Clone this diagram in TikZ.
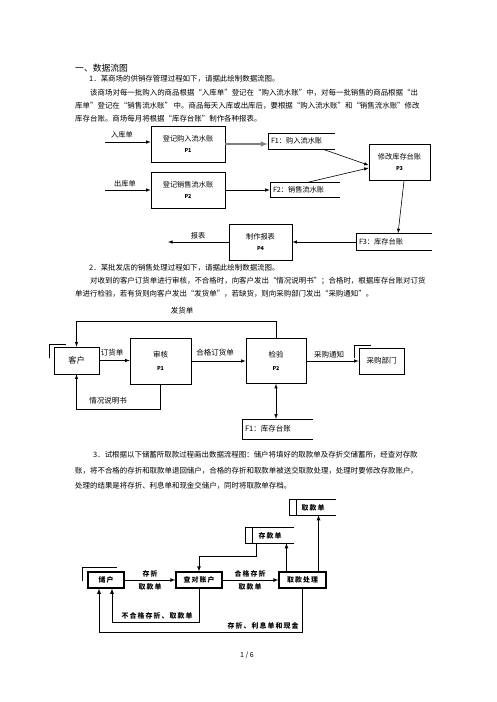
\documentclass[tikz,border=0pt]{standalone}
\usepackage{fontspec}
\setmainfont{Noto Sans CJK SC}
\newfontfamily\saomiao[LetterSpace=16]{Noto Sans CJK SC}
\newcommand\zhengwen{\fontsize{7.45}{13}\selectfont}
\newcommand\biaoti{\fontsize{8.8}{13}\selectfont}
\newcommand\tuzi{\fontsize{7.2}{11}\selectfont}
\newcommand\tuzib{\fontsize{7.5}{11}\selectfont}
\newcommand\bianhao{\fontsize{5.4}{8}\selectfont\bfseries}
\newcommand\saozi{\saomiao\bfseries\fontsize{6.9}{9}\selectfont}

\begin{document}
\begin{tikzpicture}[x=1pt,y=-1pt,>=latex,
  hang/.style={anchor=west,inner sep=0pt,font=\zhengwen},
  jincheng/.style={draw,line width=0.6pt,inner sep=0pt,align=center,font=\tuzi},
  cunchu/.style={inner xsep=3pt,inner ysep=0pt,align=left,font=\tuzi},
  liu/.style={draw,line width=0.6pt,->},
  biao/.style={inner sep=0pt,font=\tuzi},
  kuang/.style={draw,line width=1.1pt,inner sep=0pt,font=\saozi},
  saoliu/.style={draw,line width=0.8pt,->},
  saobiao/.style={inner sep=0pt,font=\saozi}]
\useasboundingbox (0,0) rectangle (496,702);
\newcommand\kaikou[2]{\draw[line width=#2] (#1.north east) -- (#1.north west) -- (#1.south west) -- (#1.south east);}

% 正文一
\node[hang,font=\biaoti] (bt) at (75,68) {一、数据流图};
\node[hang] (a0) at (89,79) {1．某商场的供销存管理过程如下，请据此绘制数据流图。};
\node[hang] (a1) at (90,93) {该商场对每一批购入的商品根据“入库单”登记在“购入流水账”中，对每一批销售的商品根据“出};
\node[hang] (a2) at (75,106) {库单”登记在“销售流水账” 中。商品每天入库或出库后，要根据“购入流水账”和“销售流水账”修改};
\node[hang] (a3) at (75,119) {库存台账。商场每月将根据“库存台账”制作各种报表。};

% 图一
\node[biao] (rkd) at (122,135) {入库单};
\coordinate (rkq) at (105,142);
\node[jincheng,minimum width=74,minimum height=36] (dj1) at (188,144) {登记购入流水账\\{\bianhao P1}};
\draw[liu] (rkq) -- (rkq -| dj1.west);
\node[cunchu,text width=61pt,minimum height=16] (f1) at (301.5,141) {F1：购入流水账};
\kaikou{f1}{0.6pt}
\draw[liu,line width=1.4pt,gray] (dj1.east) -- (dj1.east -| f1.west);
\node[jincheng,minimum width=61,minimum height=36] (xg3) at (399.5,162) {修改库存台账\\{\bianhao P3}};
\draw[liu] (f1.-21) -- (xg3.186);

\node[biao] (ckd) at (125,184) {出库单};
\coordinate (ckq) at (105,190);
\node[jincheng,minimum width=74,minimum height=36] (dj2) at (188,190) {登记销售流水账\\{\bianhao P2}};
\draw[liu] (ckq) -- (ckq -| dj2.west);
\node[cunchu,text width=64pt,minimum height=15] (f2) at (305,190) {F2：销售流水账};
\kaikou{f2}{0.6pt}
\draw[liu] (dj2.east) -- (dj2.east -| f2.west);
\draw[liu] (f2.70) -- (xg3.191);

\node[cunchu,text width=70pt,minimum height=17] (f3) at (394,242) {F3：库存台账};
\kaikou{f3}{0.6pt}
\draw[liu] (xg3.-76) -- (f3.65);
\node[jincheng,minimum width=63,minimum height=36] (zz4) at (260.5,242) {制作报表\\{\bianhao P4}};
\draw[liu] (f3.west) -- (f3.west -| zz4.east);
\coordinate (bbq) at (168,242);
\draw[liu] (zz4.west) -- (bbq);
\node[biao] (bb) at (198,236) {报表};

% 正文二
\node[hang] (b0) at (89,268) {2．某批发店的销售处理过程如下，请据此绘制数据流图。};
\node[hang] (b1) at (90,281) {对收到的客户订货单进行审核，不合格时，向客户发出“情况说明书”；合格时，根据库存台账对订货};
\node[hang] (b2) at (75,294) {单进行检验，若有货则向客户发出“发货单”，若缺货，则向采购部门发出“采购通知”。};

% 图二
\node[jincheng,font=\fontsize{8.2}{10}\selectfont,minimum width=45,minimum height=27] (kehu) at (76.5,360.5) {客户};
\draw[line width=0.6pt] ([shift={(-4,11)}]kehu.north west) -- ++(0,-13) -- ++(16,0);
\node[jincheng,font=\tuzib,minimum width=61,minimum height=46] (sh1) at (160.5,361) {审核\\[2pt]{\bianhao P1}};
\node[jincheng,font=\tuzib,minimum width=60,minimum height=45] (jy2) at (276,361) {检验\\[2pt]{\bianhao P2}};
\node[jincheng,font=\tuzib,minimum width=45,minimum height=26] (cgbm) at (381.5,361) {采购部门};
\draw[line width=0.6pt] ([shift={(-4,10)}]cgbm.north west) -- ++(0,-12) -- ++(16,0);
\node[cunchu,font=\tuzib,text width=65pt,minimum height=20] (kctz) at (277.5,429) {F1：库存台账};
\kaikou{kctz}{0.6pt}

\draw[liu] (kehu.east) -- (kehu.east -| sh1.west);
\node[biao,font=\tuzib] (dhd) at (112,353) {订货单};
\draw[liu] (sh1.east) -- (sh1.east -| jy2.west);
\node[biao,font=\tuzib] (hgdhd) at (215,353) {合格订货单};
\draw[liu] (jy2.east) -- (jy2.east -| cgbm.west);
\node[biao,font=\tuzib] (cgtz) at (329,355) {采购通知};
\draw[liu,<->] (jy2.south) -- (jy2.south |- kctz.north);
\coordinate (fhd) at (0,321);
\draw[liu] (jy2.north) -- (jy2.north |- fhd) -| (kehu.north);
\node[biao,font=\tuzib] (fhdz) at (182,311) {发货单};
\coordinate (qksm) at (0,409);
\draw[liu] (sh1.south) -- (sh1.south |- qksm) -| (kehu.south);
\node[biao,font=\tuzib] (qksmz) at (108,401) {情况说明书};

% 正文三
\node[hang] (c0) at (93,455) {3．试根据以下储蓄所取款过程画出数据流程图：储户将填好的取款单及存折交储蓄所，经查对存款};
\node[hang] (c1) at (75,471) {账，将不合格的存折和取款单退回储户，合格的存折和取款单被送交取款处理，处理时要修改存款账户，};
\node[hang] (c2) at (75,486) {处理的结果是将存折、利息单和现金交储户，同时将取款单存档。};

% 图三
\node[kuang,minimum width=36,minimum height=16] (chuhu) at (106,580) {储户};
\draw[line width=0.8pt] ([shift={(-5,10)}]chuhu.north west) -- ++(0,-14) -- ++(35,0);
\node[kuang,minimum width=46,minimum height=16] (chadui) at (199,580) {查对账户};
\node[kuang,minimum width=47,minimum height=16] (qkcl) at (302.5,580) {取款处理};
\node[saobiao,minimum width=48,minimum height=15] (cund) at (270,535.5) {存款单};
\kaikou{cund}{1.1pt}
\draw[line width=1.1pt] ([xshift=7pt]cund.north west) -- ([xshift=7pt]cund.south west);
\node[saobiao,minimum width=46,minimum height=15] (qud) at (313,507.5) {取款单};
\kaikou{qud}{1.1pt}
\draw[line width=1.1pt] ([xshift=7pt]qud.north west) -- ([xshift=7pt]qud.south west);

\draw[saoliu] (chuhu.east) -- (chadui.west);
\node[saobiao] (l1a) at (150,573.5) {存折};
\node[saobiao] (l1b) at (150,586.5) {取款单};
\draw[saoliu] (chadui.east) -- (qkcl.west);
\node[saobiao] (l2a) at (250,573.5) {合格存折};
\node[saobiao] (l2b) at (250,586.5) {取款单};
\coordinate (zd) at (0,556);
\draw[saoliu] (cund.210) -- (cund.210 |- zd) -| (chadui.north);
\draw[saoliu] ([xshift=8pt]qkcl.north west) -- ([xshift=8pt]qkcl.north west |- cund.south);
\draw[saoliu] ([xshift=-8pt]qkcl.north east) -- ([xshift=-8pt]qkcl.north east |- qud.south);
\coordinate (bh) at (0,622);
\draw[saoliu] (chadui.south) -- (chadui.south |- bh) -| ([xshift=6pt]chuhu.south);
\node[saobiao] (l3) at (157,615.5) {不合格存折、取款单};
\coordinate (fh) at (0,632);
\draw[saoliu] (qkcl.south) -- (qkcl.south |- fh) -| ([xshift=-7pt]chuhu.south);
\node[saobiao] (l4) at (263,625.5) {存折、利息单和现金};

\node[inner sep=0pt,font=\fontsize{7}{9}\selectfont] (yema) at (247,655) {1 / 6};
\end{tikzpicture}
\end{document}
